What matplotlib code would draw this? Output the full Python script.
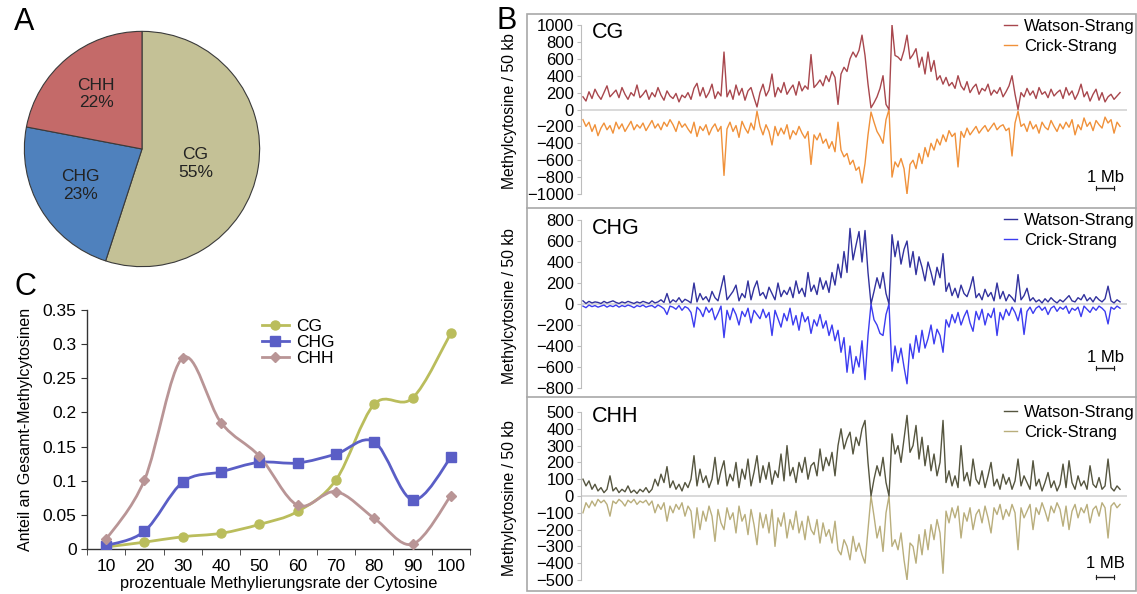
import numpy as np
import matplotlib
matplotlib.use("Agg")
import matplotlib.pyplot as plt
from matplotlib.path import Path
from matplotlib.patches import PathPatch, Rectangle
from matplotlib.lines import Line2D
import matplotlib.transforms as mtransforms

plt.rcParams['font.family'] = ['Liberation Sans', 'DejaVu Sans']

# ---------------- Data ----------------
# Panel A
pie_labels = ["CG", "CHG", "CHH"]
pie_values = [55, 23, 22]
pie_colors = ["#C4C196", "#4F81BD", "#C46A69"]

# Panel C
rate_labels = ["10", "20", "30", "40", "50", "60", "70", "80", "90", "100"]
share_CG = [0.003, 0.010, 0.018, 0.023, 0.036, 0.055, 0.101, 0.212, 0.221, 0.316]
share_CHG = [0.005, 0.026, 0.098, 0.113, 0.127, 0.126, 0.139, 0.157, 0.072, 0.134]
share_CHH = [0.014, 0.101, 0.280, 0.185, 0.136, 0.064, 0.084, 0.045, 0.007, 0.078]

# Panel B (methylcytosines per bin along the chromosome)
cg_watson = [
    150, 100, 210, 130, 240, 170, 120, 200, 280, 150, 190, 230, 140, 260, 180, 120, 200, 160, 290, 140,
    180, 230, 120, 200, 150, 260, 170, 110, 220, 160, 130, 190, 90, 170, 140, 200, 120, 250, 310, 160,
    260, 140, 200, 300, 130, 210, 160, 680, 150, 230, 120, 290, 170, 250, 110, 220, 260, 140, 30, 200,
    300, 160, 230, 420, 150, 260, 200, 320, 180, 240, 290, 170, 330, 220, 280, 240, 650, 260, 300, 350,
    280, 400, 330, 450, 380, 60, 420, 500, 450, 600, 680, 620, 700, 880, 640, 300, 20, 80, 150, 250,
    400, 60, 0, 1000, 640, 620, 580, 700, 880, 600, 650, 720, 500, 620, 420, 680, 450, 580, 350, 400,
    300, 380, 280, 320, 250, 400, 280, 230, 330, 200, 260, 300, 180, 250, 220, 300, 170, 230, 190, 260,
    150, 210, 280, 400, 180, 0, 200, 150, 250, 170, 220, 130, 260, 180, 210, 140, 240, 160, 200, 230,
    130, 260, 170, 220, 120, 190, 300, 150, 210, 100, 180, 240, 110, 200, 90, 150, 180, 120, 160, 200]
cg_crick = [
    -120, -200, -150, -260, -180, -310, -220, -160, -240, -190, -280, -150, -230, -170, -260, -200, -140, -240, -180, -220,
    -160, -250, -190, -130, -220, -170, -240, -150, -200, -120, -180, -260, -140, -210, -170, -230, -280, -150, -320, -200,
    -250, -180, -300, -220, -170, -260, -200, -780, -230, -150, -260, -190, -330, -140, -220, -280, -160, -240, -20, -200,
    -300, -180, -260, -420, -200, -310, -220, -290, -180, -350, -250, -300, -200, -280, -340, -260, -650, -300, -360, -280,
    -400, -350, -460, -380, -500, -150, -480, -560, -520, -650, -600, -720, -680, -870, -640, -300, -30, -150, -260, -320,
    -400, -120, 0, -800, -620, -680, -580, -700, -1000, -650, -600, -700, -520, -640, -450, -560, -400, -480, -350, -420,
    -300, -380, -250, -320, -280, -680, -260, -330, -220, -300, -250, -200, -280, -230, -190, -260, -210, -160, -240, -200,
    -180, -250, -220, -550, -160, -20, -200, -170, -260, -140, -230, -180, -280, -150, -210, -240, -130, -200, -260, -170,
    -230, -150, -210, -120, -300, -180, -240, -100, -200, -150, -250, -130, -180, -220, -90, -160, -120, -280, -150, -200]
chg_watson = [
    30, 5, 25, 10, 20, 15, 5, 25, 10, 20, 30, 15, 5, 20, 10, 25, 15, 5, 20, 10,
    25, 15, 5, 30, 10, 20, 40, 15, 100, 10, 40, 20, 60, 15, 45, 30, 10, 200, 20, 100,
    40, 70, 20, 120, 60, 30, 150, 270, 40, 80, 120, 180, 30, 100, 60, 220, 40, 150, 220, 80,
    110, 50, 160, 100, 40, 200, 70, 130, 90, 160, 60, 220, 100, 150, 70, 300, 120, 180, 90, 250,
    140, 220, 110, 300, 180, 380, 250, 500, 300, 720, 420, 560, 690, 400, 700, 300, 0, 120, 250, 150,
    300, 100, 0, 660, 450, 600, 380, 520, 600, 350, 500, 280, 450, 350, 220, 400, 300, 180, 350, 250,
    480, 120, 200, 80, 150, 60, 180, 100, 70, 150, 260, 60, 100, 40, 140, 70, 110, 30, 200, 50,
    120, 30, 90, 60, 20, 280, 40, 80, 150, 30, 60, 20, 40, 10, 50, 20, 60, 30, 10, 40,
    20, 50, 80, 30, 20, 60, 40, 90, 30, 60, 20, 70, 40, 20, 50, 170, 30, 10, 40, 20]
chg_crick = [
    -20, -35, -10, -25, -15, -30, -20, -10, -30, -15, -25, -10, -30, -15, -25, -10, -20, -35, -15, -25,
    -10, -30, -20, -15, -35, -10, -25, -45, -100, -20, -30, -50, -15, -60, -25, -40, -80, -220, -30, -60,
    -120, -30, -80, -40, -150, -90, -20, -320, -60, -150, -40, -100, -200, -70, -120, -40, -180, -60, -100, -140,
    -50, -130, -80, -300, -60, -140, -220, -90, -160, -40, -200, -110, -250, -80, -170, -120, -280, -150, -210, -100,
    -230, -160, -300, -200, -350, -250, -460, -320, -650, -400, -660, -500, -600, -350, -720, -300, 0, -150, -200, -280,
    -300, -100, 0, -640, -400, -560, -420, -600, -760, -380, -520, -300, -460, -250, -420, -330, -200, -380, -240, -300,
    -460, -150, -220, -100, -180, -80, -200, -120, -60, -180, -260, -70, -150, -50, -200, -90, -130, -40, -300, -80,
    -150, -50, -110, -30, -80, -160, -40, -290, -70, -30, -90, -40, -20, -60, -30, -100, -40, -20, -70, -30,
    -50, -20, -90, -40, -60, -30, -120, -20, -50, -80, -30, -60, -20, -40, -70, -190, -30, -50, -20, -40]
chh_watson = [
    100, 60, 90, 40, 70, 30, 50, 20, 40, 120, 30, 50, 20, 40, 25, 60, 20, 35, 15, 40,
    25, 50, 20, 40, 100, 60, 130, 80, 175, 50, 90, 40, 70, 30, 80, 50, 100, 240, 60, 160,
    80, 120, 50, 100, 230, 70, 150, 210, 60, 130, 90, 200, 50, 160, 100, 220, 60, 140, 240, 80,
    180, 100, 200, 70, 150, 110, 250, 90, 300, 120, 170, 80, 200, 140, 230, 100, 180, 200, 120, 280,
    150, 230, 180, 260, 120, 300, 400, 280, 340, 380, 250, 350, 300, 400, 450, 200, 0, 100, 180, 120,
    230, 80, 0, 370, 250, 300, 200, 340, 480, 260, 300, 420, 220, 350, 180, 300, 150, 250, 120, 200,
    450, 80, 150, 60, 120, 50, 300, 90, 140, 60, 220, 100, 70, 150, 50, 120, 200, 60, 100, 40,
    130, 70, 110, 40, 90, 220, 60, 120, 80, 40, 210, 60, 100, 30, 80, 140, 50, 90, 30, 70,
    190, 50, 210, 80, 40, 120, 60, 90, 40, 180, 70, 50, 110, 40, 60, 220, 50, 30, 60, 40]
chh_crick = [
    -100, -40, -70, -30, -60, -20, -40, -25, -50, -120, -30, -45, -20, -35, -60, -25, -40, -20, -50, -30,
    -40, -25, -55, -30, -100, -50, -80, -40, -150, -60, -100, -50, -80, -40, -120, -60, -90, -250, -70, -200,
    -90, -150, -60, -120, -270, -80, -160, -200, -70, -140, -100, -220, -60, -150, -110, -230, -80, -170, -290, -100,
    -190, -110, -220, -80, -300, -130, -180, -100, -250, -140, -200, -90, -220, -150, -260, -120, -200, -230, -140, -280,
    -160, -240, -200, -280, -150, -320, -350, -260, -300, -380, -240, -330, -280, -350, -400, -200, 0, -120, -250, -180,
    -330, -100, 0, -300, -260, -320, -220, -380, -500, -280, -300, -400, -230, -350, -200, -320, -170, -260, -140, -220,
    -460, -90, -160, -70, -130, -60, -250, -100, -150, -70, -200, -110, -80, -160, -60, -130, -220, -70, -110, -50,
    -140, -80, -120, -50, -100, -320, -70, -130, -90, -50, -200, -70, -110, -40, -90, -150, -60, -100, -40, -80,
    -180, -60, -200, -90, -50, -130, -70, -100, -50, -160, -80, -60, -120, -40, -70, -250, -60, -40, -70, -50]

bin_mb = 1.0 / 6.0  # bin width in Mb

W, H = 1137, 594
fig = plt.figure(figsize=(W / 100, H / 100), dpi=100)


def fx(px):
    return px / W


def fy(py):
    return 1 - py / H


# ---------------- Panel A: pie ----------------
axA = fig.add_axes([fx(22), fy(269), 240 / W, 240 / H])
wedges, texts = axA.pie(pie_values, colors=pie_colors, startangle=90, counterclock=False,
                        labels=[f"{l}\n{v}%" for l, v in zip(pie_labels, pie_values)],
                        labeldistance=0.61,
                        wedgeprops=dict(edgecolor="#3a3a3a", linewidth=0.8),
                        textprops=dict(fontsize=12.5, color="#222222", ha="center", va="center",
                                       linespacing=1.2))
# CG label sits closer to the centre
th = np.deg2rad((wedges[0].theta1 + wedges[0].theta2) / 2)
texts[0].set_position((0.46 * np.cos(th), 0.46 * np.sin(th) - 0.05))
axA.set_xlim(-1.02, 1.02)
axA.set_ylim(-1.02, 1.02)
axA.set_aspect("equal")
axA.axis("off")

# ---------------- Panel C: smoothed lines ----------------
axC = fig.add_axes([fx(87), fy(549), 383 / W, 239 / H])
xc = np.arange(len(rate_labels))


def smooth_path(xs, ys):
    pts = np.column_stack([xs, ys]).astype(float)
    n = len(pts)
    verts = [pts[0]]
    codes = [Path.MOVETO]
    for i in range(n - 1):
        p0 = pts[i - 1] if i > 0 else pts[i]
        p1 = pts[i]
        p2 = pts[i + 1]
        p3 = pts[i + 2] if i + 2 < n else pts[i + 1]
        c1 = p1 + (p2 - p0) / 6.0
        c2 = p2 - (p3 - p1) / 6.0
        verts += [c1, c2, p2]
        codes += [Path.CURVE4] * 3
    return Path(verts, codes)


seriesC = [
    ("CG", share_CG, "#BABD5C", "o", 6.5),
    ("CHG", share_CHG, "#5A5EC6", "s", 6.5),
    ("CHH", share_CHH, "#B99596", "D", 5.5),
]
handles = []
for name, vals, col, mk, ms in seriesC:
    axC.add_patch(PathPatch(smooth_path(xc, vals), fill=False, edgecolor=col, lw=2.0,
                            transform=axC.transData, zorder=2))
    axC.plot(xc, vals, linestyle="none", marker=mk, ms=ms, color=col, zorder=3)
    handles.append(Line2D([], [], color=col, lw=2.0, marker=mk, ms=ms))

axC.set_xlim(-0.5, 9.5)
axC.set_ylim(0, 0.35)
axC.set_yticks(np.arange(0, 0.351, 0.05))
axC.set_yticklabels(["0", "0.05", "0.1", "0.15", "0.2", "0.25", "0.3", "0.35"])
axC.set_xticks(xc)
axC.set_xticklabels(rate_labels)
axC.set_xticks(np.arange(-0.5, 9.6, 1.0), minor=True)
axC.tick_params(axis="x", which="major", length=0, labelsize=12.5, pad=7)
axC.tick_params(axis="x", which="minor", length=4, direction="out", color="#333333")
axC.tick_params(axis="y", length=4, direction="out", labelsize=12.5, color="#333333")
for s in ["top", "right"]:
    axC.spines[s].set_visible(False)
for s in ["left", "bottom"]:
    axC.spines[s].set_color("#333333")
    axC.spines[s].set_linewidth(1.0)
axC.set_ylabel("Anteil an Gesamt-Methylcytosinen", fontsize=11.5)
axC.yaxis.set_label_coords(-0.141, 0.5)
axC.set_xlabel("prozentuale Methylierungsrate der Cytosine", fontsize=11.8)
axC.xaxis.set_label_coords(0.5, -0.115)
axC.legend(handles, ["CG", "CHG", "CHH"], loc="upper left", bbox_to_anchor=(0.415, 1.03),
           frameon=False, fontsize=12.5, handlelength=1.6, labelspacing=0.05, handletextpad=0.4)

# ---------------- Panel B: three strand profiles ----------------
# frame
frame_col = "#A8A8A8"
fig.add_artist(Rectangle((fx(527), fy(591)), (1136 - 527) / W, (591 - 14) / H, transform=fig.transFigure,
                         fill=False, edgecolor=frame_col, lw=1.2))
for yy in (208, 397):
    fig.add_artist(Line2D([fx(527), fx(1136)], [fy(yy), fy(yy)], transform=fig.transFigure,
                          color=frame_col, lw=1.2))

panelsB = [
    ("CG", cg_watson, cg_crick, "#A8474D", "#F0913A", 1000, 200, (25, 194), "1 Mb", (0.095, 0.036),
     33, 26),
    ("CHG", chg_watson, chg_crick, "#32329E", "#3C3CF0", 800, 200, (220, 388), "1 Mb", (0.18, 0.12),
     228, 220),
    ("CHH", chh_watson, chh_crick, "#55553F", "#B9AE7C", 500, 100, (412, 580), "1 MB", (0.10, 0.018),
     417, 412),
]
for (name, wat, cri, cw, cc, ymax, step, (ytop, ybot), sb_label, (ty, by),
     name_y, leg_y) in panelsB:
    hh = ybot - ytop
    ax = fig.add_axes([fx(581), fy(ybot), (1127 - 581) / W, hh / H])
    xb = np.arange(len(wat)) * bin_mb
    ax.axhline(0, color="#D3D3D3", lw=1.2, zorder=1)
    ax.plot(xb, wat, color=cw, lw=1.0, label="Watson-Strang", zorder=3)
    ax.plot(xb, cri, color=cc, lw=1.0, label="Crick-Strang", zorder=2)
    ax.set_xlim(-0.11, 30.22)
    ax.set_ylim(-ymax, ymax)
    ax.set_yticks(np.arange(-ymax, ymax + 1, step))
    ax.set_xticks([])
    for s in ["top", "right", "bottom"]:
        ax.spines[s].set_visible(False)
    ax.spines["left"].set_color("#BDBDBD")
    ax.tick_params(axis="y", length=3, color="#BDBDBD", labelsize=12, pad=2)
    ax.set_ylabel("Methylcytosine / 50 kb", fontsize=11.3)
    ax.yaxis.set_label_coords(-0.117, 0.49)
    ax.text(0.02, (ybot - name_y) / hh, name, transform=ax.transAxes, fontsize=15.5,
            ha="left", va="center")
    leg = ax.legend(loc="upper right", bbox_to_anchor=(fx(1135), fy(leg_y - 7)),
                    bbox_transform=fig.transFigure, borderaxespad=0, borderpad=0,
                    frameon=False, fontsize=12, handlelength=0.75, handletextpad=0.45,
                    labelspacing=0.3)
    for lh in leg.get_lines():
        lh.set_linewidth(1.0)
    # scale bar of 1 Mb
    trans = mtransforms.blended_transform_factory(ax.transData, ax.transAxes)
    x0 = 28.5
    ax.plot([x0, x0 + 1.0], [by, by], color="#222222", lw=1.0, transform=trans, clip_on=False)
    ax.plot([x0, x0], [by - 0.012, by + 0.012], color="#222222", lw=0.8, transform=trans, clip_on=False)
    ax.plot([x0 + 1.0, x0 + 1.0], [by - 0.012, by + 0.012], color="#222222", lw=0.8, transform=trans,
            clip_on=False)
    ax.text(x0 + 0.5, ty, sb_label, transform=trans, fontsize=12, ha="center", va="center")

# panel letters
fig.text(fx(24), fy(22), "A", fontsize=22, ha="center", va="center")
fig.text(fx(507), fy(21), "B", fontsize=22, ha="center", va="center")
fig.text(fx(25), fy(287), "C", fontsize=22, ha="center", va="center")

fig.savefig("out.png", dpi=100)
